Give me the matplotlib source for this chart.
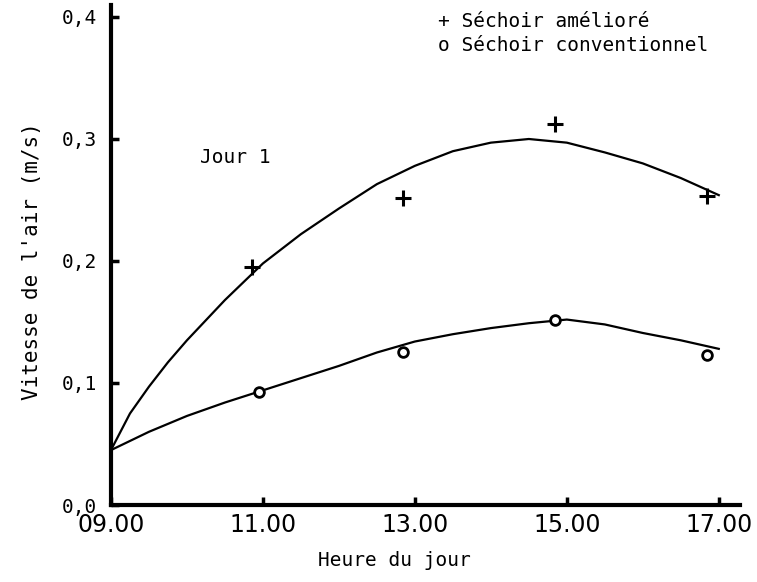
import matplotlib
matplotlib.use("Agg")
import matplotlib.pyplot as plt

# valeurs
heures_plus = [10.85, 12.85, 14.85, 16.85]
vitesse_ameliore = [0.195, 0.252, 0.312, 0.253]
heures_rond = [10.95, 12.85, 14.85, 16.85]
vitesse_conventionnel = [0.093, 0.125, 0.152, 0.123]

# courbes tracées à la main (points relevés)
heures_courbe_a = [9.0, 9.25, 9.5, 9.75, 10.0, 10.5, 11.0, 11.5, 12.0, 12.5,
                   13.0, 13.5, 14.0, 14.5, 15.0, 15.5, 16.0, 16.5, 17.0]
courbe_ameliore = [0.045, 0.075, 0.097, 0.117, 0.135, 0.168, 0.198, 0.222, 0.243, 0.263,
                   0.278, 0.290, 0.297, 0.300, 0.297, 0.289, 0.280, 0.268, 0.254]
heures_courbe_c = [9.0, 9.5, 10.0, 10.5, 11.0, 11.5, 12.0, 12.5, 13.0, 13.5,
                   14.0, 14.5, 15.0, 15.5, 16.0, 16.5, 17.0]
courbe_conventionnel = [0.045, 0.060, 0.073, 0.084, 0.094, 0.104, 0.114, 0.125, 0.134, 0.140,
                        0.145, 0.149, 0.152, 0.148, 0.141, 0.135, 0.128]

xticks = [9, 11, 13, 15, 17]
xlabels = ["09.00", "11.00", "13.00", "15.00", "17.00"]
yticks = [0.0, 0.1, 0.2, 0.3, 0.4]
ylabels = ["0,0", "0,1", "0,2", "0,3", "0,4"]

mono = "DejaVu Sans Mono"

fig = plt.figure(figsize=(7.57, 5.82), dpi=100)
ax = fig.add_axes([0.1466, 0.1323, 0.831, 0.8385])

ax.plot(heures_courbe_a, courbe_ameliore, color="black", lw=1.6)
ax.plot(heures_courbe_c, courbe_conventionnel, color="black", lw=1.6)
ax.plot(heures_plus, vitesse_ameliore, "+", color="black", ms=11, mew=2.2)
ax.plot(heures_rond, vitesse_conventionnel, "o", color="black", ms=7,
        mfc="white", mew=2)

ax.set_xlim(9, 17.28)
ax.set_ylim(0, 0.4)
ax.spines["top"].set_visible(False)
ax.spines["right"].set_visible(False)
ax.spines["left"].set_linewidth(3)
ax.spines["bottom"].set_linewidth(3)
ax.spines["left"].set_bounds(0, 0.41)

ax.set_xticks(xticks)
ax.set_xticklabels(xlabels, fontfamily="Liberation Sans Narrow", fontsize=17)
ax.set_yticks(yticks)
ax.set_yticklabels(ylabels, fontfamily=mono, fontsize=14)
ax.tick_params(axis="both", direction="in", length=6, width=2.5)
ax.tick_params(axis="x", pad=6)
ax.tick_params(axis="y", pad=10)

ax.set_xlabel("Heure du jour", fontfamily=mono, fontsize=14, labelpad=10)
ax.xaxis.set_label_coords(0.45, -0.095)
ax.set_ylabel("Vitesse de l'air (m/s)", fontfamily=mono, fontsize=15, labelpad=14)

ax.text(10.17, 0.285, "Jour 1", fontfamily=mono, fontsize=14, va="center")
ax.text(13.3, 0.396, "+ Séchoir amélioré", fontfamily=mono, fontsize=14, va="center")
ax.text(13.3, 0.377, "o Séchoir conventionnel", fontfamily=mono, fontsize=14, va="center")

fig.savefig("out.png", dpi=100)
